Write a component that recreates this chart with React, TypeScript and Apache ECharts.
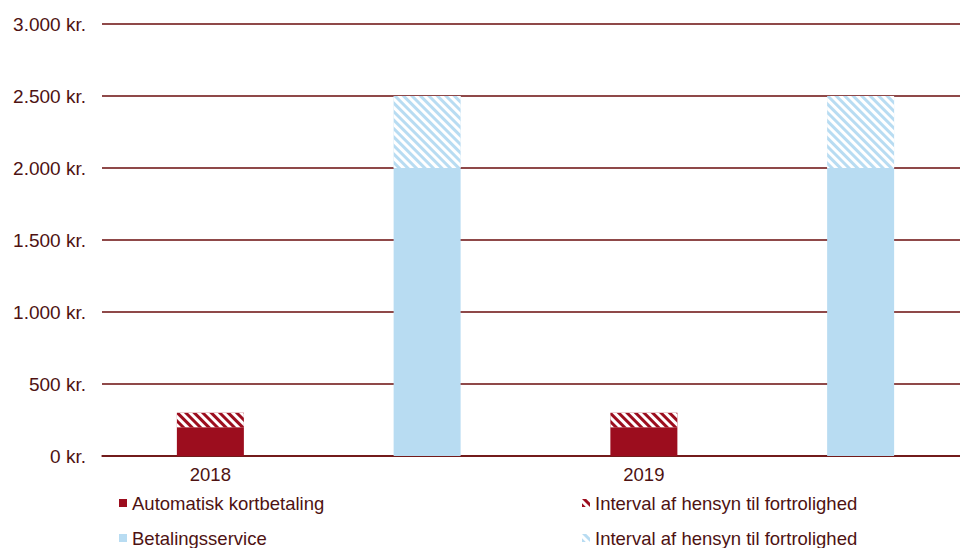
import React, { useEffect, useRef } from "react";
import * as echarts from "echarts";

const categories = ["2018", "2018 BS", "2019", "2019 BS"];
const autoValues = [200, "-", 200, "-"];
const autoInterval = [100, "-", 100, "-"];
const bsValues = ["-", 2000, "-", 2000];
const bsInterval = ["-", 500, "-", 500];
const yTicks = [0, 500, 1000, 1500, 2000, 2500, 3000];
const intervalLabel = "Interval af hensyn til fortrolighed";

const RED = "#9c0d1e";
const BLUE = "#b8dcf2";
const TEXT = "#4e1212";
const GRID = "#6a0c0c";

const hatch = {
  symbol: "rect",
  symbolSize: 1,
  color: "#ffffff",
  dashArrayX: [1, 0],
  dashArrayY: [2.4, 2.4],
  rotation: Math.PI / 4,
};

function fmtKr(v: number) {
  return v.toString().replace(/\B(?=(\d{3})+(?!\d))/g, ".") + " kr.";
}

export default function App() {
  const ref = useRef<HTMLDivElement>(null);
  useEffect(() => {
    if (!ref.current) return;
    const chart = echarts.init(ref.current, null, { renderer: "svg" });
    const font = "Liberation Sans";
    const legendText = { color: TEXT, fontSize: 18.5, fontFamily: font, lineHeight: 20 };
    const mkLegend = (name: string, left: number, top: number, label?: string) => ({
      orient: "horizontal",
      left,
      top,
      padding: 0,
      itemWidth: 8,
      itemHeight: 8,
      icon: "rect",
      data: [name],
      formatter: label ? () => label : undefined,
      textStyle: legendText,
    });
    chart.setOption({
      animation: false,
      textStyle: { fontFamily: font },
      grid: { left: 102, top: 24, width: 867, height: 432, containLabel: false },
      xAxis: {
        type: "category",
        data: categories,
        axisTick: { show: false },
        axisLine: { lineStyle: { color: GRID, width: 1.5 } },
        axisLabel: {
          color: TEXT,
          fontSize: 18.5,
          fontFamily: font,
          margin: 9,
          interval: 0,
          formatter: (v: string, i: number) => (i % 2 === 0 ? v : ""),
        },
      },
      yAxis: {
        type: "value",
        min: yTicks[0],
        max: yTicks[yTicks.length - 1],
        interval: 500,
        axisLine: { show: false },
        axisTick: { show: false },
        splitLine: { lineStyle: { color: GRID, width: 1.5 } },
        axisLabel: {
          color: TEXT,
          fontSize: 19,
          fontFamily: font,
          margin: 16,
          formatter: (v: number) => fmtKr(v),
        },
      },
      legend: [
        mkLegend("Automatisk kortbetaling", 119, 493),
        mkLegend("Betalingsservice", 119, 528),
        mkLegend("Interval A", 582, 493, intervalLabel),
        mkLegend("Interval B", 582, 528, intervalLabel),
      ],
      series: [
        {
          name: "Automatisk kortbetaling",
          type: "bar",
          stack: "s",
          barWidth: 67,
          data: autoValues,
          itemStyle: { color: RED },
        },
        {
          name: "Interval A",
          type: "bar",
          stack: "s",
          barWidth: 67,
          data: autoInterval,
          itemStyle: { color: RED, decal: hatch },
        },
        {
          name: "Betalingsservice",
          type: "bar",
          stack: "s",
          barWidth: 67,
          data: bsValues,
          itemStyle: { color: BLUE },
        },
        {
          name: "Interval B",
          type: "bar",
          stack: "s",
          barWidth: 67,
          data: bsInterval,
          itemStyle: { color: BLUE, decal: hatch },
        },
      ],
    });
    return () => chart.dispose();
  }, []);
  return (
    <div
      ref={ref}
      style={{ position: "fixed", left: 0, top: 0, width: 980, height: 548, background: "#fff" }}
    />
  );
}
